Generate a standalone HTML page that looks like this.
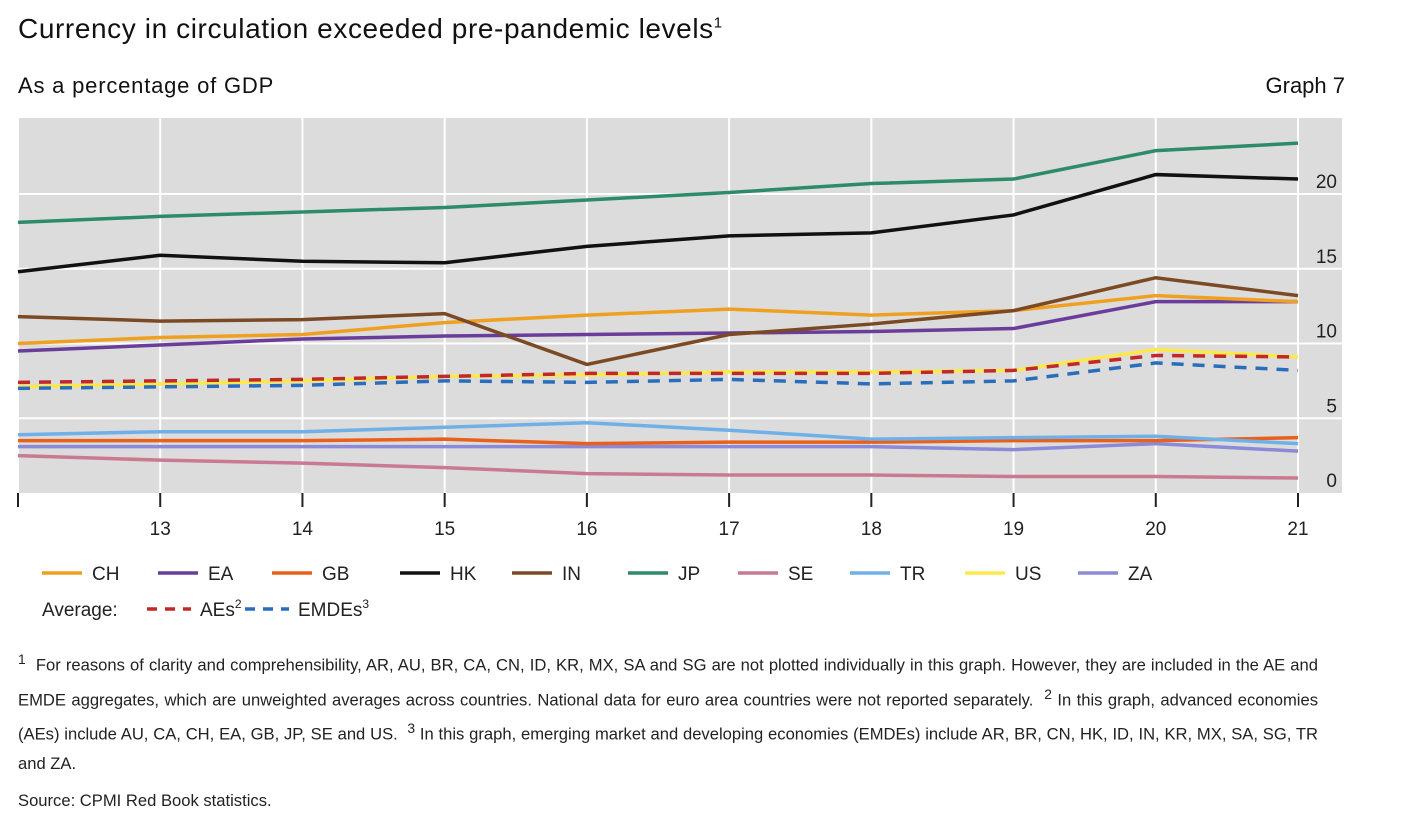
<!DOCTYPE html>
<html><head><meta charset="utf-8"><style>
body{margin:0;width:1402px;height:819px;background:#fff;font-family:"Liberation Sans",sans-serif;color:#111;position:relative;overflow:hidden}
.t{position:absolute;white-space:nowrap}
.fn{position:absolute;left:18px;width:1300px;font-size:16.6px;line-height:29px;color:#222}
</style></head><body>
<div class="t" style="left:18px;top:13px;font-size:28px;letter-spacing:0.6px">Currency in circulation exceeded pre-pandemic levels<sup style="font-size:15px">1</sup></div>
<div class="t" style="left:18px;top:73px;font-size:22px;letter-spacing:0.8px">As a percentage of GDP</div>
<div class="t" style="right:57px;top:73px;font-size:22px">Graph 7</div>
<svg id="chart" width="1402" height="660" style="position:absolute;left:0;top:0"></svg>
<div class="fn" style="top:645px;text-align:justify"><sup>1</sup>&nbsp; For reasons of clarity and comprehensibility, AR, AU, BR, CA, CN, ID, KR, MX, SA and SG are not plotted individually in this graph. However, they are included in the AE and EMDE aggregates, which are unweighted averages across countries. National data for euro area countries were not reported separately. &nbsp;<sup>2</sup> In this graph, advanced economies (AEs) include AU, CA, CH, EA, GB, JP, SE and US. &nbsp;<sup>3</sup> In this graph, emerging market and developing economies (EMDEs) include AR, BR, CN, HK, ID, IN, KR, MX, SA, SG, TR and ZA.</div>
<div class="fn" style="top:786px">Source: CPMI Red Book statistics.</div>
<script>
const years=[12,13,14,15,16,17,18,19,20,21];
const yTicks=[0,5,10,15,20];
const CH=[10.0,10.4,10.6,11.4,11.9,12.3,11.9,12.2,13.2,12.8];
const EA=[9.5,9.9,10.3,10.5,10.6,10.7,10.8,11.0,12.8,12.8];
const GB=[3.5,3.5,3.5,3.6,3.3,3.4,3.4,3.5,3.5,3.7];
const HK=[14.8,15.9,15.5,15.4,16.5,17.2,17.4,18.6,21.3,21.0];
const IN=[11.8,11.5,11.6,12.0,8.6,10.6,11.3,12.2,14.4,13.2];
const JP=[18.1,18.5,18.8,19.1,19.6,20.1,20.7,21.0,22.9,23.4];
const SE=[2.5,2.2,2.0,1.7,1.3,1.2,1.2,1.1,1.1,1.0];
const TR=[3.9,4.1,4.1,4.4,4.7,4.2,3.6,3.7,3.8,3.3];
const US=[7.1,7.3,7.5,7.8,7.9,8.1,8.1,8.2,9.6,9.1];
const ZA=[3.1,3.1,3.1,3.1,3.1,3.1,3.1,2.9,3.3,2.8];
const AEs=[7.4,7.5,7.6,7.8,8.0,8.0,8.0,8.2,9.2,9.1];
const EMDEs=[7.0,7.1,7.2,7.5,7.4,7.6,7.3,7.5,8.7,8.2];
const NS="http://www.w3.org/2000/svg";
const svg=document.getElementById('chart');
const X0=18,X1=1298,Y0=493,PX=14.95;
const x=i=>X0+(X1-X0)*i/(years.length-1);
const y=v=>Y0-v*PX;
function mk(t,a){const e=document.createElementNS(NS,t);for(const k in a)e.setAttribute(k,a[k]);svg.appendChild(e);return e;}
let bg=mk('rect',{x:18,y:118,width:1324,height:375,fill:'#dcdcdc'});


yTicks.forEach(v=>{if(v>0){let g=mk('line',{x1:18,x2:1342,y1:y(v),y2:y(v),stroke:'#fff','stroke-width':2});

}
let t=mk('text',{x:1337,y:y(v)-6,'font-size':19,'text-anchor':'end',fill:'#222','font-family':'Liberation Sans'});t.textContent=v;

});
years.forEach((yr,i)=>{let g=mk('line',{x1:x(i),x2:x(i),y1:118,y2:493,stroke:'#fff','stroke-width':2});


let tk=mk('line',{x1:x(i),x2:x(i),y1:493,y2:507,stroke:'#222','stroke-width':2});


if(i>0){let t=mk('text',{x:x(i),y:535,'font-size':19,'text-anchor':'middle',fill:'#222','font-family':'Liberation Sans'});t.textContent=yr;

}});
const series=[["SE",SE,'#c97a90',''],["ZA",ZA,'#8a8ad8',''],["GB",GB,'#e8601c',''],["TR",TR,'#6fb0e8',''],["US",US,'#ffe84a',''],["EMDEs",EMDEs,'#2a6ebb','12 9'],["AEs",AEs,'#c0282a','12 9'],["EA",EA,'#6a3d9a',''],["CH",CH,'#f0a020',''],["IN",IN,'#7b4a24',''],["HK",HK,'#111',''],["JP",JP,'#2e8b6a','']];
series.forEach(([n,d,c,da])=>{let p=mk('polyline',{points:d.map((v,i)=>x(i)+','+y(v)).join(' '),fill:'none',stroke:c,'stroke-width':3.5,'stroke-dasharray':da});

});
const leg=[["CH",'#f0a020',42],["EA",'#6a3d9a',158],["GB",'#e8601c',272],["HK",'#111',400],["IN",'#7b4a24',512],["JP",'#2e8b6a',628],["SE",'#c97a90',738],["TR",'#6fb0e8',850],["US",'#ffe84a',965],["ZA",'#8a8ad8',1078]];
leg.forEach(([n,c,lx])=>{let l=mk('line',{x1:lx,x2:lx+40,y1:573,y2:573,stroke:c,'stroke-width':3.5});


let t=mk('text',{x:lx+50,y:580,'font-size':19,fill:'#222','font-family':'Liberation Sans'});t.textContent=n;

});
let av=mk('text',{x:42,y:616,'font-size':19,fill:'#222','font-family':'Liberation Sans'});av.textContent='Average:';


[["AEs",'#c0282a',147,'2'],["EMDEs",'#2a6ebb',245,'3']].forEach(([n,c,lx,s])=>{let l=mk('line',{x1:lx,x2:lx+44,y1:609,y2:609,stroke:c,'stroke-width':3.5,'stroke-dasharray':'10 8'});


let t=mk('text',{x:lx+53,y:616,'font-size':19,fill:'#222','font-family':'Liberation Sans'});t.textContent=n;


let sp=document.createElementNS(NS,'tspan');sp.setAttribute('dy','-8');sp.setAttribute('font-size','12');sp.textContent=s;t.appendChild(sp);});
</script>
</body></html>
